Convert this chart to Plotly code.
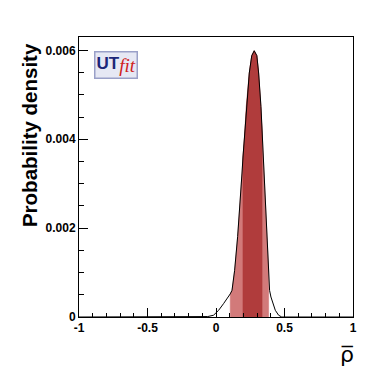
import numpy as np
import plotly.graph_objects as go

# Posterior fuer rho-bar
rho = [-1.0, -0.12, -0.06, -0.018, 0.019, 0.055, 0.093, 0.104, 0.117, 0.136, 0.158,
       0.177, 0.190, 0.197, 0.207, 0.221, 0.243, 0.261, 0.279, 0.298, 0.311,
       0.328, 0.336, 0.340, 0.353, 0.360, 0.372, 0.384, 0.391, 0.401, 0.416,
       0.433, 0.457, 0.48, 1.0]
dens = [0.0, 0.0, 0.00001, 0.00004, 0.00015, 0.00030, 0.00045, 0.00052, 0.00060,
        0.00105, 0.00181, 0.00256, 0.00324, 0.00360, 0.00399, 0.00474, 0.00549,
        0.00588, 0.00599, 0.00588, 0.00549, 0.00474, 0.00420, 0.00399, 0.00324,
        0.00256, 0.00181, 0.00105, 0.00060, 0.00045, 0.00030, 0.00015, 0.00004,
        0.0, 0.0]

# Intervalle: 95% und 68%
int95 = [0.104, 0.384]
int68 = [0.197, 0.336]

x_ticks = [-1, -0.5, 0, 0.5, 1]
x_labels = ["-1", "-0.5", "0", "0.5", "1"]
y_ticks = [0, 0.002, 0.004, 0.006]
y_labels = ["0", "0.002", "0.004", "0.006"]

rho = np.array(rho)
dens = np.array(dens)

fig = go.Figure()

for (lo, hi), col in [(int95, "#d27a7a"), (int68, "#b03c3c")]:
    m = (rho >= lo) & (rho <= hi)
    xs = np.concatenate([[lo], rho[m], [hi]])
    ys = np.concatenate([[0], dens[m], [0]])
    fig.add_trace(go.Scatter(x=xs, y=ys, mode="lines", fill="toself",
                             fillcolor=col, line=dict(width=0.6, color=col),
                             hoverinfo="skip", showlegend=False))

fig.add_trace(go.Scatter(x=rho, y=dens, mode="lines",
                         line=dict(color="black", width=1),
                         showlegend=False))

tickfont = dict(family="Liberation Sans", size=12, color="black", weight="bold")

fig.update_xaxes(range=[-1, 1], tickvals=x_ticks, ticktext=x_labels,
                 ticks="inside", ticklen=9, tickwidth=1, tickcolor="black",
                 minor=dict(dtick=0.1, ticks="inside", ticklen=4.5, tickcolor="black"),
                 showline=True, linecolor="black", linewidth=1, mirror=True,
                 showgrid=False, zeroline=False, tickfont=tickfont)
fig.update_yaxes(range=[0, 0.0063], tickvals=y_ticks, ticktext=y_labels,
                 ticks="inside", ticklen=9, tickwidth=1, tickcolor="black",
                 minor=dict(dtick=0.0005, ticks="inside", ticklen=4.5, tickcolor="black"),
                 showline=True, linecolor="black", linewidth=1, mirror=True,
                 showgrid=False, zeroline=False, tickfont=tickfont)

fig.add_annotation(text="Probability density", textangle=-90,
                   xref="paper", yref="paper", x=-0.183, y=0.985,
                   xanchor="center", yanchor="top", showarrow=False,
                   font=dict(family="Liberation Sans", size=20.5, color="black", weight="bold"))
fig.add_annotation(text="ρ\u0305", xref="paper", yref="paper", x=0.978, y=-0.135,
                   xanchor="center", yanchor="middle", showarrow=False,
                   font=dict(family="DejaVu Sans", size=22, color="black"))

# UTfit Logo
fig.add_annotation(text="<b><span style='color:#1c2678'>UT</span></b>"
                        "<sub><span style='color:#d02020;font-family:Liberation Serif;"
                        "font-size:19px'><i>fit</i></span></sub>",
                   xref="paper", yref="paper", x=0.136, y=0.9,
                   xanchor="center", yanchor="middle", showarrow=False,
                   bgcolor="#e6e8f4", bordercolor="#9aa0c8", borderwidth=1.5,
                   borderpad=1,
                   font=dict(family="Liberation Sans", size=17))

# Seite hat 8px Rand, daher Figur etwas kleiner
fig.update_layout(width=384, height=366,
                  margin=dict(l=71, r=39, t=29, b=57),
                  plot_bgcolor="white", paper_bgcolor="white")

fig.write_html("out.html")
